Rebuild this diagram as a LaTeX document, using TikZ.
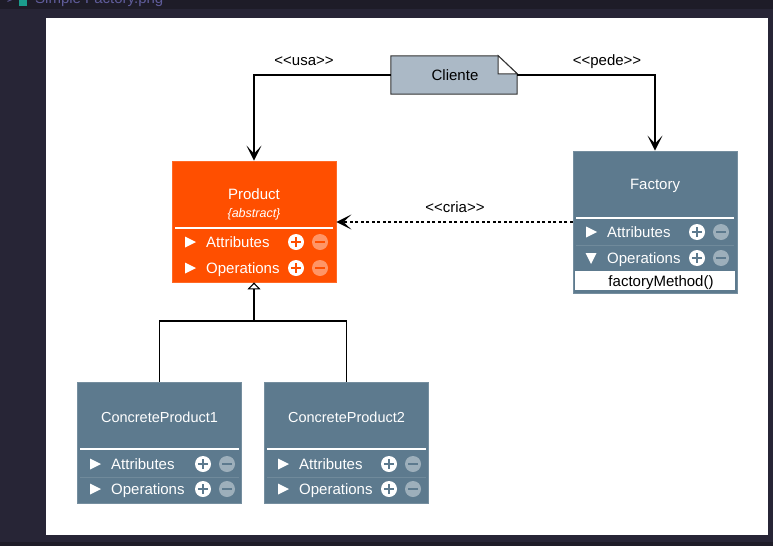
\documentclass[tikz,border=0pt]{standalone}
\usepackage{fontspec}
\setmainfont{Liberation Sans}
\usetikzlibrary{arrows.meta}

\definecolor{framebg}{HTML}{272536}
\definecolor{tabbar}{HTML}{1E1C28}
\definecolor{tabtext}{HTML}{5F5C9A}
\definecolor{tabicon}{HTML}{1B9C8C}
\definecolor{prodorange}{HTML}{FF4F00}
\definecolor{slate}{HTML}{5D7A8E}
\definecolor{notefill}{HTML}{ABB9C6}

\tikzset{
    classbox/.style={draw=#1!85!white, fill=#1, line width=0.8pt, minimum width=164pt, inner sep=0pt},
    classtitle/.style={text=white, font=\fontsize{15}{18}\selectfont, anchor=base},
    rowtext/.style={text=white, font=\fontsize{15}{18}\selectfont, anchor=base west, inner sep=0pt},
    umltext/.style={font=\fontsize{15}{18}\selectfont, anchor=base, inner sep=0pt},
    assoc/.style={draw=black, line width=1.1pt, -{Stealth[length=15pt, width=15pt, inset=8pt]}},
    inherit/.style={draw=black, line width=1.1pt, -{Triangle[open, length=7pt, width=13pt, fill=white]}},
}

% one compartment row: arrow x, y, label, plus x, sign colour, arrow angle
\newcommand{\classrow}[6]{
    \fill[white, rotate around={#6:(#1,#2)}] (#1-5,#2-5.5) -- (#1+6,#2) -- (#1-5,#2+5.5) -- cycle;
    \node[rowtext] at (#1+16,#2+5.3) {#3};
    \fill[white] (#4,#2) circle (8);
    \fill[#5] (#4-5,#2-1.3) rectangle (#4+5,#2+1.3);
    \fill[#5] (#4-1.3,#2-5) rectangle (#4+1.3,#2+5);
    \fill[white, opacity=0.4] (#4+24,#2) circle (8);
    \fill[#5] (#4+19,#2-1.3) rectangle (#4+29,#2+1.3);
}

\begin{document}
\begin{tikzpicture}[x=1pt, y=-1pt]
    % Editor frame round the image
    \useasboundingbox (0,0) rectangle (773,546);
    \clip (0,0) rectangle (773,546);
    \fill[framebg] (0,0) rectangle (773,546);
    \fill[tabbar] (0,0) rectangle (773,9);
    \fill[tabbar] (0,542) rectangle (773,546);
    \node[text=tabtext, font=\fontsize{14}{16}\selectfont, anchor=base] (tabarrow) at (11,4) {>};
    \fill[tabicon] (19,-4) rectangle (27,6);
    \node[text=tabtext, font=\fontsize{15}{18}\selectfont, anchor=base west, inner sep=0pt] (tabname) at (35,4) {Simple Factory.png};
    \fill[white] (46,18) rectangle (768,535);

    % Client note
    \node[minimum width=126pt, minimum height=38pt, inner sep=0pt] (cliente) at (454,75) {};
    \draw[fill=notefill, draw=black!80, line width=1pt]
        (cliente.south west) |- ([xshift=-19pt]cliente.north east)
        -- ([yshift=-18pt]cliente.north east) |- cycle;
    \draw[fill=white, draw=black!80, line width=1pt]
        ([xshift=-19pt]cliente.north east) |- ([yshift=-18pt]cliente.north east) -- cycle;
    \node[umltext] (clientetext) at (455,80.4) {Cliente};

    % Classes
    \node[classbox=prodorange, minimum height=121pt] (product) at (254,221.5) {};
    \node[classbox=slate, minimum height=142pt] (factory) at (655,222) {};
    \node[classbox=slate, minimum height=121pt] (cp1) at (159.5,442.5) {};
    \node[classbox=slate, minimum height=121pt] (cp2) at (346.5,442.5) {};

    % Product
    \node[classtitle] (producttitle) at (254,199.4) {Product};
    \node[classtitle, font=\fontsize{12.5}{15}\selectfont\itshape] (productabs) at (254,217.5) {\{abstract\}};
    \draw[white, line width=2pt] (175,228) -- (333,228);
    \classrow{190}{242}{Attributes}{296}{prodorange}{0}
    \classrow{190}{268}{Operations}{296}{prodorange}{0}

    % Factory
    \node[classtitle] (factorytitle) at (655,189.4) {Factory};
    \draw[white, line width=2pt] (576,218) -- (734,218);
    \draw[white, opacity=0.12, line width=0.6pt] (576,245) -- (734,245);
    \classrow{591}{232}{Attributes}{697}{slate}{0}
    \classrow{591}{258}{Operations}{697}{slate}{-90}
    \fill[white] (575,271) rectangle (735,290);
    \node[umltext] (method) at (661,286.4) {factoryMethod()};

    % Concrete products
    \node[classtitle, font=\fontsize{14.5}{17}\selectfont] (cp1title) at (159.5,422.2) {ConcreteProduct1};
    \draw[white, line width=2pt] (80,449) -- (239,449);
    \draw[white, opacity=0.12, line width=0.6pt] (80,477) -- (239,477);
    \classrow{95}{464}{Attributes}{203}{slate}{0}
    \classrow{95}{489}{Operations}{203}{slate}{0}

    \node[classtitle, font=\fontsize{14.5}{17}\selectfont] (cp2title) at (346.5,422.2) {ConcreteProduct2};
    \draw[white, line width=2pt] (267,449) -- (426,449);
    \draw[white, opacity=0.12, line width=0.6pt] (267,477) -- (426,477);
    \classrow{283}{464}{Attributes}{389}{slate}{0}
    \classrow{283}{489}{Operations}{389}{slate}{0}

    % Connectors
    \draw[assoc] (cliente.west) -| (product.north);
    \draw[assoc] (cliente.east) -| (factory.north);
    \draw[assoc, dash pattern=on 3pt off 2.5pt] (factory.west) -- (factory.west -| product.east);

    \coordinate (branch) at (254,321);
    \draw[line width=1.1pt] (cp1.north) |- (branch) -| (cp2.north);
    \draw[inherit] (branch) -- (product.south);

    % Stereotype labels
    \node[umltext] (usa) at (304,65.5) {<{}<usa>{}>};
    \node[umltext] (pede) at (607,65.5) {<{}<pede>{}>};
    \node[umltext] (cria) at (455,212.5) {<{}<cria>{}>};
\end{tikzpicture}
\end{document}
